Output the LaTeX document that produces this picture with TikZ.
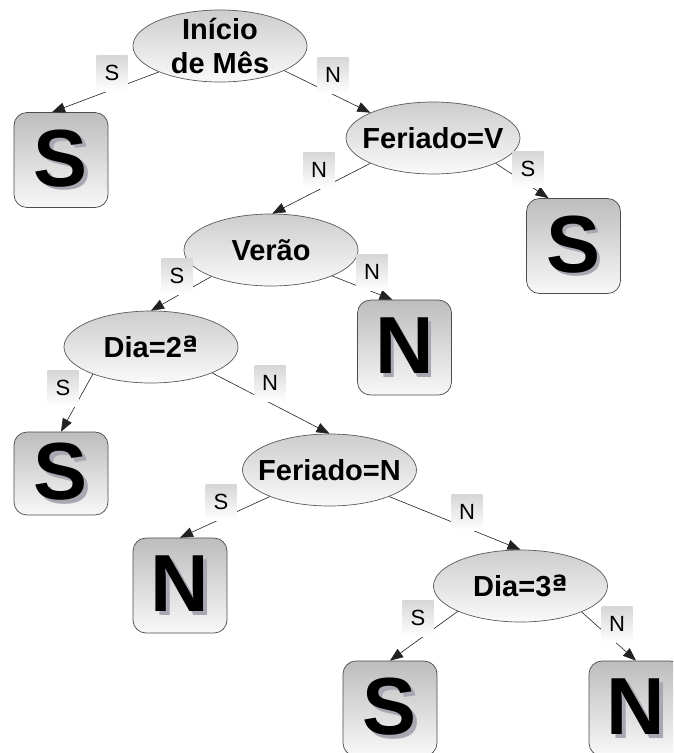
\documentclass[tikz,border=0pt]{standalone}
\usepackage{fontspec}
\setmainfont{Liberation Sans}
\newfontfamily\ordfont{DejaVu Sans}
\usetikzlibrary{shapes.geometric,arrows.meta}
\definecolor{ellTop}{HTML}{CDCDCD}
\definecolor{ellBot}{HTML}{FAFAFA}
\definecolor{boxTop}{HTML}{BDBDBD}
\definecolor{boxBot}{HTML}{F8F8F8}
\definecolor{lblTop}{HTML}{D6D6D6}
\definecolor{lineCol}{HTML}{222222}
\definecolor{shadowCol}{HTML}{A8A8B2}
\newcommand\leafletter[1]{\makebox[0pt][l]{\hspace{3.5pt}\raisebox{-3.5pt}{\textcolor{shadowCol}{#1}}}#1}
\newcommand\etext[1]{\smash{\makebox[0pt]{\raisebox{-10.4pt}{#1}}}}
\newcommand\etwo[2]{\smash{\makebox[0pt]{\raisebox{-9.5pt}{\begin{tabular}{@{}c@{}}#1\\#2\end{tabular}}}}}
\newcommand\ordA{{\ordfont ª}}
\begin{document}
\begin{tikzpicture}[x=1pt,y=-1pt,
 decision/.style={ellipse, draw=gray!70!black, line width=0.7pt, top color=ellTop, bottom color=ellBot, minimum width=174pt, minimum height=72pt, inner sep=0pt, font=\fontsize{29}{34}\selectfont\bfseries},
 leaf/.style={rectangle, rounded corners=13pt, draw=gray!60!black, line width=0.7pt, top color=boxTop, bottom color=boxBot, minimum width=94pt, minimum height=95pt, inner sep=0pt, font=\fontsize{81}{81}\selectfont\bfseries},
 edgelbl/.style={rectangle, top color=lblTop, bottom color=white, minimum width=31pt, minimum height=36pt, inner sep=0pt, font=\fontsize{22}{22}\selectfont},
 conn/.style={draw=lineCol, line width=0.6pt, -{Triangle[length=13pt,width=10pt]}}
]
\useasboundingbox (0,0) rectangle (673,753);
\clip (0,0) rectangle (673,753);
\fill[white] (0,0) rectangle (673,753);

% decision nodes
\node[decision] (ini)   at (220,46)    {\etwo{Início}{de Mês}};
\node[decision] (ferv)  at (433,138)   {\etext{Feriado=V}};
\node[decision] (verao) at (271,250)   {\etext{Verão}};
\node[decision] (dia2)  at (151,347)   {\etext{Dia=2\ordA}};
\node[decision] (fern)  at (329.5,470) {\etext{Feriado=N}};
\node[decision] (dia3)  at (520.5,586) {\etext{Dia=3\ordA}};

% leaves
\node[leaf] (s1) at (61,160)      {\leafletter{S}};
\node[leaf] (s2) at (573.5,246)   {\leafletter{S}};
\node[leaf] (n1) at (404.5,347.5) {\leafletter{N}};
\node[leaf, minimum height=83pt] (s3) at (61,473.5) {\leafletter{S}};
\node[leaf] (n2) at (180,585.5)   {\leafletter{N}};
\node[leaf] (s4) at (390,708.5)   {\leafletter{S}};
\node[leaf] (n3) at (636,708.5)   {\leafletter{N}};

% connectors
\draw[conn] (ini.203) -- ([xshift=-9pt]s1.north);
\draw[conn] (ini.339) -- (ferv.158);
\draw[conn] (ferv.202) -- (verao.88);
\draw[conn] (ferv.338) -- ([xshift=-25pt]s2.north);
\draw[conn] (verao.204) -- (dia2.north);
\draw[conn] (verao.337) -- ([xshift=-12pt]n1.north);
\draw[conn] (dia2.205) -- (s3.north);
\draw[conn] (dia2.337) -- (fern.north);
\draw[conn] (fern.204) -- (n2.north);
\draw[conn] (fern.336) -- (dia3.north);
\draw[conn] (dia3.202) -- (s4.north);
\draw[conn] (dia3.337) -- (n3.north);

% edge labels
\node[edgelbl] (l1)  at (112,73)  {S};
\node[edgelbl] (l2)  at (333,75)  {N};
\node[edgelbl] (l3)  at (319,170) {N};
\node[edgelbl] (l4)  at (528,169) {S};
\node[edgelbl] (l5)  at (177,276) {S};
\node[edgelbl] (l6)  at (372,272) {N};
\node[edgelbl] (l7)  at (63,388)  {S};
\node[edgelbl] (l8)  at (270,383) {N};
\node[edgelbl] (l9)  at (221,502) {S};
\node[edgelbl] (l10) at (467,512) {N};
\node[edgelbl] (l11) at (418,618) {S};
\node[edgelbl] (l12) at (617,624) {N};
\end{tikzpicture}
\end{document}
